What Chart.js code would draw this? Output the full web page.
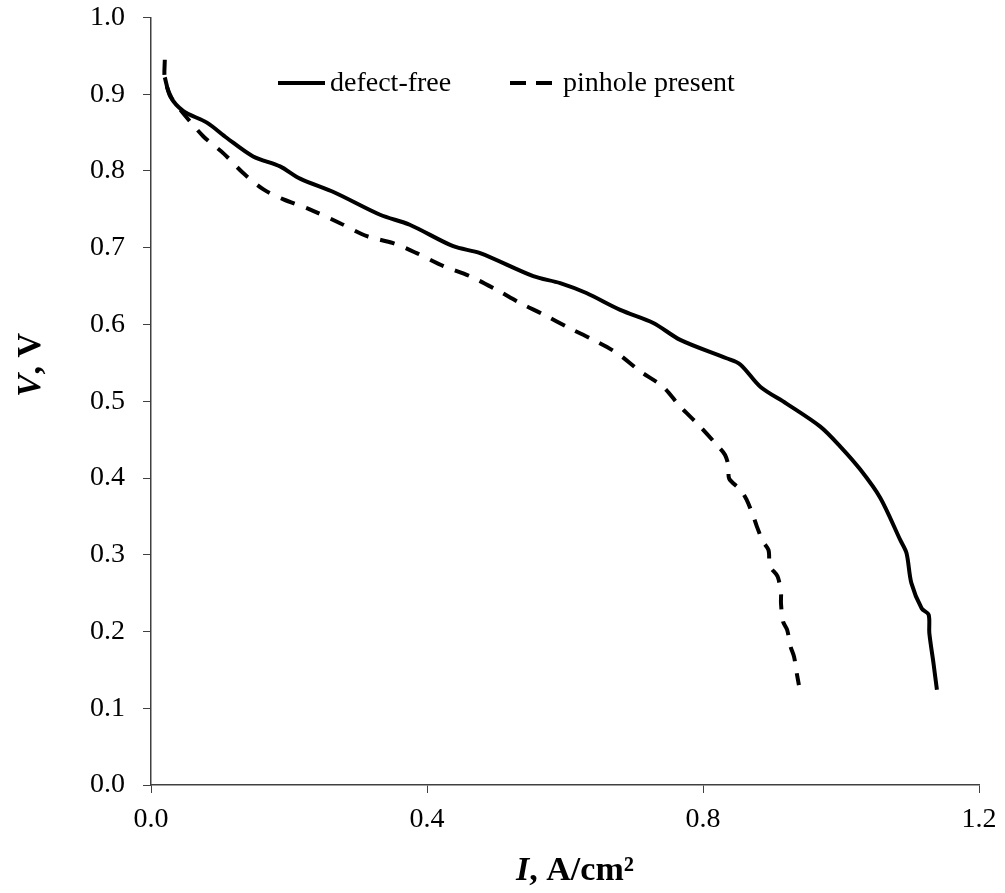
<!DOCTYPE html>
<html>
<head>
<meta charset="utf-8">
<script src="https://cdn.jsdelivr.net/npm/chart.js@4.4.1/dist/chart.umd.min.js"></script>
<style>
  html, body { margin: 0; padding: 0; background: #fff; }
  #wrap { width: 1005px; height: 893px; }
</style>
</head>
<body>
<div id="wrap"><canvas id="ivChart" width="1005" height="893"></canvas></div>
<script>
const ctx = document.getElementById('ivChart').getContext('2d');

const SERIF = "'Liberation Serif', 'Times New Roman', serif";

const seriesLabels = ['defect-free', 'pinhole present'];

// defect-free cell
const defectFreeI = [0.020, 0.028, 0.047, 0.081, 0.110, 0.148, 0.187, 0.216, 0.266, 0.332,
    0.375, 0.438, 0.477, 0.554, 0.593, 0.631, 0.680, 0.728, 0.767, 0.834,
    0.854, 0.883, 0.921, 0.970, 0.999, 1.028, 1.057, 1.086, 1.095, 1.102,
    1.117, 1.127, 1.128, 1.134, 1.139];
const defectFreeV = [0.922, 0.897, 0.878, 0.863, 0.843, 0.819, 0.806, 0.790, 0.772, 0.743,
    0.730, 0.702, 0.693, 0.663, 0.654, 0.641, 0.619, 0.602, 0.580, 0.556,
    0.548, 0.519, 0.497, 0.467, 0.441, 0.411, 0.374, 0.319, 0.302, 0.263,
    0.230, 0.222, 0.198, 0.159, 0.124];

// cell with pinhole
const pinholeI = [0.020, 0.020, 0.030, 0.046, 0.076, 0.105, 0.134, 0.163, 0.192, 0.230,
    0.274, 0.313, 0.351, 0.385, 0.424, 0.462, 0.501, 0.535, 0.569, 0.607,
    0.641, 0.675, 0.709, 0.742, 0.767, 0.796, 0.822, 0.832, 0.837, 0.838,
    0.854, 0.863, 0.873, 0.878, 0.887, 0.895, 0.897, 0.908, 0.913, 0.913,
    0.916, 0.922, 0.927, 0.932, 0.936, 0.939];
const pinholeV = [0.945, 0.920, 0.895, 0.876, 0.845, 0.823, 0.797, 0.776, 0.763, 0.750,
    0.732, 0.715, 0.706, 0.693, 0.676, 0.663, 0.645, 0.628, 0.613, 0.595,
    0.580, 0.563, 0.539, 0.519, 0.493, 0.467, 0.441, 0.430, 0.415, 0.399,
    0.385, 0.372, 0.350, 0.337, 0.317, 0.306, 0.285, 0.272, 0.250, 0.237,
    0.213, 0.202, 0.180, 0.167, 0.145, 0.130];

const xTicks = [0, 0.4, 0.8, 1.2];
const yTicks = [0, 0.1, 0.2, 0.3, 0.4, 0.5, 0.6, 0.7, 0.8, 0.9, 1.0];

const toPoints = (xs, ys) => xs.map((x, i) => ({x: x, y: ys[i]}));

const AXIS_COLOR = '#404040';
const DASH = [15, 12];

// axis titles (mixed italic / upright) and the in-plot legend
const decorations = {
    id: 'decorations',
    afterDraw(chart) {
        const c = chart.ctx;
        c.save();
        c.fillStyle = '#000';

        // legend
        const legendY = 83;
        const items = [
            {x0: 278, x1: 325, textX: 330, dash: []},
            {x0: 510, x1: 552, textX: 563, dash: [16, 10]}
        ];
        items.forEach((it, i) => {
            c.beginPath();
            c.lineWidth = 4;
            c.strokeStyle = '#000';
            c.setLineDash(it.dash);
            c.moveTo(it.x0, legendY);
            c.lineTo(it.x1, legendY);
            c.stroke();
            c.setLineDash([]);
            c.font = '28px ' + SERIF;
            c.textBaseline = 'middle';
            c.textAlign = 'left';
            c.fillText(chart.data.datasets[i].label, it.textX, legendY + 1);
        });

        // title pieces
        const drawPieces = (pieces, cx, baseline) => {
            let total = 0;
            pieces.forEach(p => { c.font = p.font; total += c.measureText(p.text).width; });
            let x = cx - total / 2;
            c.textAlign = 'left';
            c.textBaseline = 'alphabetic';
            pieces.forEach(p => {
                c.font = p.font;
                c.fillText(p.text, x, baseline);
                x += c.measureText(p.text).width;
            });
        };
        const ib = 'italic bold 34px ' + SERIF;
        const b = 'bold 34px ' + SERIF;

        // x title
        drawPieces([{text: 'I', font: ib}, {text: ', A/cm²', font: b}], 575, 880);

        // y title
        c.translate(40, 365);
        c.rotate(-Math.PI / 2);
        drawPieces([{text: 'V', font: ib}, {text: ', V', font: b}], 0, 0);
        c.restore();
    }
};

const data = {
    datasets: [
        {
            label: seriesLabels[0],
            data: toPoints(defectFreeI, defectFreeV),
            borderColor: '#000',
            borderWidth: 4,
            pointRadius: 0,
            tension: 0.3,
            fill: false
        },
        {
            label: seriesLabels[1],
            data: toPoints(pinholeI, pinholeV),
            borderColor: '#000',
            borderWidth: 4,
            borderDash: DASH,
            pointRadius: 0,
            tension: 0.3,
            fill: false
        }
    ]
};

const config = {
    type: 'line',
    data: data,
    options: {
        responsive: false,
        devicePixelRatio: 1,
        animation: false,
        layout: {
            padding: 0
        },
        plugins: {
            legend: {display: false},
            tooltip: {enabled: false}
        },
        scales: {
            x: {
                type: 'linear',
                min: 0,
                max: 1.2,
                afterFit: s => {
                    s.height = 108;
                    s.paddingLeft = 0;
                    s.paddingRight = 26;
                },
                afterBuildTicks: s => { s.ticks = xTicks.map(v => ({value: v})); },
                ticks: {
                    color: '#000',
                    font: {family: SERIF, size: 28},
                    padding: 10,
                    maxRotation: 0,
                    callback: v => v.toFixed(1)
                },
                grid: {drawOnChartArea: false, tickLength: 8, color: AXIS_COLOR},
                border: {display: true, color: AXIS_COLOR, width: 1.5}
            },
            y: {
                type: 'linear',
                min: 0,
                max: 1.0,
                afterFit: s => {
                    s.width = 151;
                    s.paddingTop = 17.5;
                    s.paddingBottom = 0;
                },
                afterBuildTicks: s => { s.ticks = yTicks.map(v => ({value: v})); },
                ticks: {
                    color: '#000',
                    font: {family: SERIF, size: 28},
                    padding: 18,
                    callback: v => v.toFixed(1)
                },
                grid: {drawOnChartArea: false, tickLength: 8, color: AXIS_COLOR},
                border: {display: true, color: AXIS_COLOR, width: 1.5}
            }
        }
    },
    plugins: [decorations]
};

const myChart = new Chart(ctx, config);
</script>
</body>
</html>
